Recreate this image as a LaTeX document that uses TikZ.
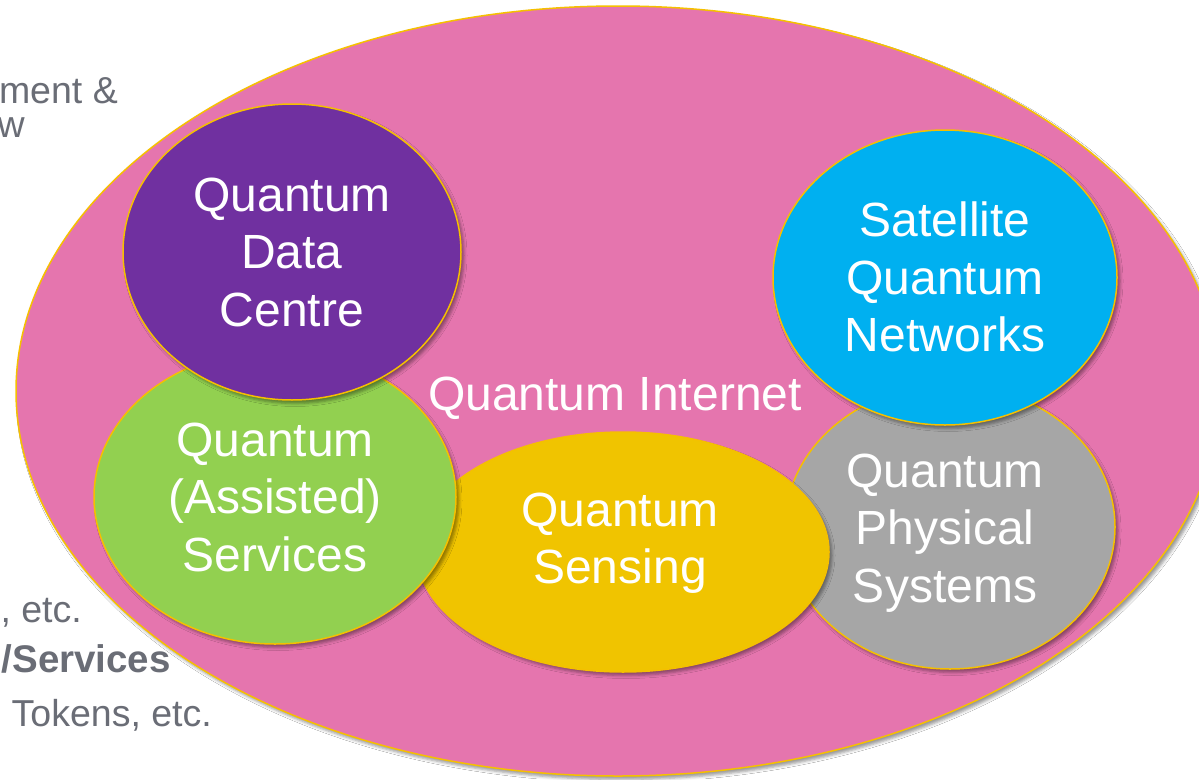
\documentclass[tikz,border=0pt]{standalone}
\usepackage{fontspec}
\setmainfont{Liberation Sans}
\usetikzlibrary{shapes.geometric,shadows.blur}
\definecolor{pinkbg}{HTML}{E575AE}
\definecolor{goldline}{HTML}{F5C000}
\definecolor{purplec}{HTML}{7030A0}
\definecolor{greenc}{HTML}{92D050}
\definecolor{yellowc}{HTML}{F0C400}
\definecolor{bluec}{HTML}{00B0F0}
\definecolor{greyc}{HTML}{A6A6A6}
\definecolor{sidegrey}{HTML}{6A6D76}
\begin{document}
\begin{tikzpicture}[x=1pt,y=-1pt,
  blob/.style={ellipse, draw=goldline, line width=1.5pt, inner sep=0pt, outer sep=0pt,
    blur shadow={shadow xshift=3pt, shadow yshift=-3.5pt, shadow blur radius=3pt, shadow opacity=40}},
  lbl/.style={text=white, align=center, inner sep=0pt, font=\fontsize{48}{57.5}\selectfont},
  side/.style={text=sidegrey, inner sep=0pt, anchor=base east, font=\fontsize{37.5}{45}\selectfont}]
\useasboundingbox (0,0) rectangle (1199,779);
\fill[white] (0,0) rectangle (1199,779);
\clip (0,0) rectangle (1199,779);
% side texts
\node[side] (s1) at (118,103) {ment \&};
\node[side] (s2) at (25,137) {w};
\node[side] (s3) at (82,622) {, etc.};
\node[side, font=\fontsize{38.5}{45}\selectfont\bfseries] (s4) at (171,672) {/Services};
\node[side] (s5) at (212,726) {Tokens, etc.};
% ellipses
\node[blob, fill=pinkbg, minimum width=1204pt, minimum height=770pt] (net) at (618,391) {};
\node[blob, fill=greyc, minimum width=330pt, minimum height=284pt] (phys) at (950,527) {};
\node[blob, fill=yellowc, minimum width=412pt, minimum height=240pt] (sens) at (623,552) {};
\node[blob, fill=greenc, minimum width=362pt, minimum height=294pt] (serv) at (275,497) {};
\node[blob, fill=purplec, minimum width=338pt, minimum height=296pt] (qdc) at (292,252) {};
\node[blob, fill=bluec, minimum width=344pt, minimum height=295pt] (sat) at (945,277.5) {};
% labels
\node[lbl] (qdcT) at (292,252) {Quantum\\Data\\Centre};
\node[lbl] (servT) at (275,497) {Quantum\\(Assisted)\\Services};
\node[lbl] (sensT) at (620,543) {Quantum\\Sensing};
\node[lbl] (satT) at (945,277) {Satellite\\Quantum\\Networks};
\node[lbl] (physT) at (945,533) {Quantum\\Physical\\Systems};
\node[lbl, anchor=base] (netT) at (615,410) {Quantum Internet};
\end{tikzpicture}
\end{document}
